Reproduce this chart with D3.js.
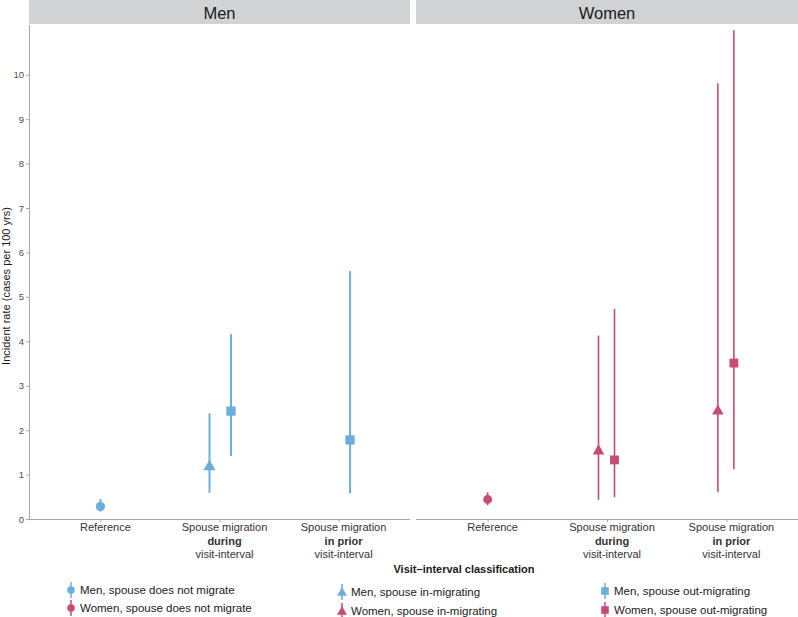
<!DOCTYPE html>
<html><head><meta charset="utf-8">
<script src="https://cdn.jsdelivr.net/npm/d3@7"></script>
<style>body{margin:0;background:#fff}svg{display:block;font-family:"Liberation Sans",Arial,sans-serif}</style>
</head><body><svg id="c" width="798" height="617"></svg>
<script>
const panels = ["Men", "Women"];
const categories = ["Reference", "during", "in prior"];
const groups = ["none", "in", "out"];
const yTicks = [0,1,2,3,4,5,6,7,8,9,10];

const menCat  = ["Reference", "during", "during", "in prior"];
const menGrp  = ["none", "in", "out", "out"];
const menEst  = [0.28, 1.20, 2.43, 1.78];
const menLow  = [0.17, 0.59, 1.42, 0.58];
const menHigh = [0.45, 2.38, 4.16, 5.58];

const womenCat  = ["Reference", "during", "during", "in prior", "in prior"];
const womenGrp  = ["none", "in", "out", "in", "out"];
const womenEst  = [0.44, 1.55, 1.33, 2.45, 3.51];
const womenLow  = [0.31, 0.43, 0.49, 0.60, 1.12];
const womenHigh = [0.60, 4.13, 4.73, 9.81, 11.0];

const legendLabels = [
  ["Men, spouse does not migrate", "Women, spouse does not migrate"],
  ["Men, spouse in-migrating", "Women, spouse in-migrating"],
  ["Men, spouse out-migrating", "Women, spouse out-migrating"]
];

(function(){
const colors = {Men: "#6aaee0", Women: "#c84a74"};
const svg = d3.select("#c");
const yTop = 25, yBot = 519;
const y = d3.scaleLinear().domain([0, 11.12]).range([yBot, yTop]);
const panelX = {Men: [29, 410], Women: [416, 798]};
const dodge = {Men: d3.scaleOrdinal().domain(groups).range([0, -10, 11.5]),
               Women: d3.scaleOrdinal().domain(groups).range([0, -8.5, 7.5])};
const data = {
  Men: menCat.map((c,i)=>({cat:c, grp:menGrp[i], est:menEst[i], lo:menLow[i], hi:menHigh[i]})),
  Women: womenCat.map((c,i)=>({cat:c, grp:womenGrp[i], est:womenEst[i], lo:womenLow[i], hi:womenHigh[i]}))
};

function shape(g, grp, size, color) {
  if (grp === "none") g.append("circle").attr("r", size*0.42).attr("fill", color);
  else if (grp === "in") g.append("path").attr("d", `M0,${-size*0.55}L${size*0.55},${size*0.42}L${-size*0.55},${size*0.42}Z`).attr("fill", color);
  else g.append("rect").attr("x", -size*0.42).attr("y", -size*0.42).attr("width", size*0.84).attr("height", size*0.84).attr("fill", color);
}

panels.forEach(p => {
  const [x0, x1] = panelX[p];
  const x = d3.scalePoint().domain(categories).range([x0, x1]).padding(0.6);
  svg.append("rect").attr("x", x0).attr("y", 0).attr("width", x1 - x0).attr("height", 24).attr("fill", "#d1d2d4");
  svg.append("text").attr("x", (x0 + x1)/2).attr("y", 19).attr("text-anchor", "middle")
    .attr("font-size", 16.5).attr("fill", "#1a1a1a").text(p);
  const xa = svg.append("g").attr("transform", `translate(0,${yBot})`)
    .call(d3.axisBottom(x).tickSize(3).tickFormat(""));
  xa.select(".domain").attr("stroke", "#a8a8a8").attr("d", `M${x0},0.5H${x1}`);
  xa.selectAll(".tick line").attr("stroke", "#a8a8a8");
  categories.forEach(c => {
    const t = svg.append("text").attr("x", x(c) + 5).attr("text-anchor", "middle").attr("font-size", 11).attr("fill", "#333");
    if (c === "Reference") {
      t.attr("y", 531).text("Reference");
    } else {
      t.append("tspan").attr("x", x(c) + 5).attr("y", 531).text("Spouse migration");
      t.append("tspan").attr("x", x(c) + 5).attr("y", 545).attr("font-weight", "bold").text(c);
      t.append("tspan").attr("x", x(c) + 5).attr("y", 558).text("visit-interval");
    }
  });
  const lw = p === "Men" ? 2 : 1.6;
  data[p].forEach(d => {
    const cx = x(d.cat) + dodge[p](d.grp);
    svg.append("line").attr("x1", cx).attr("x2", cx).attr("y1", y(d.lo)).attr("y2", y(d.hi))
      .attr("stroke", colors[p]).attr("stroke-width", lw);
    const g = svg.append("g").attr("transform", `translate(${cx},${y(d.est)})`);
    shape(g, d.grp, p === "Men" ? 11 : 10.5, colors[p]);
  });
});

const ya = svg.append("g").attr("transform", "translate(29,0)")
  .call(d3.axisLeft(y).tickValues(yTicks).tickSize(3).tickPadding(2));
ya.select(".domain").attr("stroke", "#a8a8a8").attr("d", `M0.5,${yTop}V${yBot}`);
ya.selectAll(".tick line").attr("stroke", "#a8a8a8");
ya.selectAll(".tick text").attr("font-size", 9.5).attr("fill", "#4d4d4d").attr("font-family", "Liberation Sans, Arial, sans-serif");

svg.append("text").attr("transform", "translate(10,286) rotate(-90)").attr("text-anchor", "middle")
  .attr("font-size", 11).attr("fill", "#1a1a1a").text("Incident rate (cases per 100 yrs)");
svg.append("text").attr("x", 464).attr("y", 573).attr("text-anchor", "middle")
  .attr("font-size", 11).attr("font-weight", "bold").attr("fill", "#1a1a1a").text("Visit\u2013interval classification");

const legX = [71, 342, 605];
const legY = [[590, 608], [592, 611], [591, 610]];
legendLabels.forEach((col, ci) => {
  col.forEach((lab, ri) => {
    const color = ri === 0 ? colors.Men : colors.Women;
    const cx = legX[ci], cy = legY[ci][ri];
    svg.append("line").attr("x1", cx).attr("x2", cx).attr("y1", cy - 8).attr("y2", cy + 8)
      .attr("stroke", color).attr("stroke-width", 1.5);
    const g = svg.append("g").attr("transform", `translate(${cx},${cy})`);
    shape(g, groups[ci], 9, color);
    svg.append("text").attr("x", cx + 9).attr("y", cy + 4).attr("font-size", 11.5).attr("fill", "#1a1a1a").text(lab);
  });
});
})();
</script></body></html>
